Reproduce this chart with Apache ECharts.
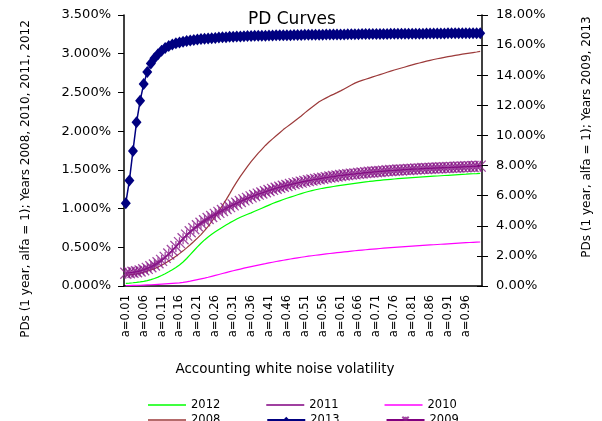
<!DOCTYPE html>
<html>
<head>
<meta charset="utf-8">
<script src="https://cdn.jsdelivr.net/npm/echarts@6/dist/echarts.min.js"></script>
<style>
html,body{margin:0;padding:0;background:#fff;}
#c{width:602px;height:421px;}
</style>
</head>
<body>
<div id="c"></div>
<script>
var categories = [
'a=0.01','a=0.02','a=0.03','a=0.04','a=0.05','a=0.06','a=0.07','a=0.08','a=0.09','a=0.10',
'a=0.11','a=0.12','a=0.13','a=0.14','a=0.15','a=0.16','a=0.17','a=0.18','a=0.19','a=0.20',
'a=0.21','a=0.22','a=0.23','a=0.24','a=0.25','a=0.26','a=0.27','a=0.28','a=0.29','a=0.30',
'a=0.31','a=0.32','a=0.33','a=0.34','a=0.35','a=0.36','a=0.37','a=0.38','a=0.39','a=0.40',
'a=0.41','a=0.42','a=0.43','a=0.44','a=0.45','a=0.46','a=0.47','a=0.48','a=0.49','a=0.50',
'a=0.51','a=0.52','a=0.53','a=0.54','a=0.55','a=0.56','a=0.57','a=0.58','a=0.59','a=0.60',
'a=0.61','a=0.62','a=0.63','a=0.64','a=0.65','a=0.66','a=0.67','a=0.68','a=0.69','a=0.70',
'a=0.71','a=0.72','a=0.73','a=0.74','a=0.75','a=0.76','a=0.77','a=0.78','a=0.79','a=0.80',
'a=0.81','a=0.82','a=0.83','a=0.84','a=0.85','a=0.86','a=0.87','a=0.88','a=0.89','a=0.90',
'a=0.91','a=0.92','a=0.93','a=0.94','a=0.95','a=0.96','a=0.97','a=0.98','a=0.99','a=1.00'
];

// Left axis (%): 2012, 2011, 2010, 2008
var s2012 = [
0.035,0.038,0.042,0.047,0.053,0.060,0.070,0.082,0.097,0.115,
0.135,0.158,0.183,0.210,0.240,0.272,0.310,0.355,0.405,0.455,
0.505,0.552,0.595,0.633,0.668,0.700,0.730,0.760,0.788,0.815,
0.840,0.865,0.888,0.908,0.927,0.945,0.965,0.985,1.005,1.025,
1.045,1.065,1.083,1.100,1.117,1.133,1.148,1.163,1.178,1.193,
1.207,1.220,1.232,1.243,1.253,1.262,1.270,1.278,1.285,1.292,
1.299,1.306,1.313,1.320,1.326,1.332,1.338,1.344,1.350,1.355,
1.360,1.365,1.370,1.374,1.378,1.382,1.386,1.390,1.394,1.397,
1.400,1.403,1.406,1.409,1.412,1.415,1.418,1.421,1.424,1.427,
1.430,1.433,1.436,1.439,1.442,1.444,1.447,1.450,1.452,1.455
];
var s2011 = [
0.165,0.171,0.177,0.185,0.195,0.210,0.228,0.249,0.272,0.300,
0.331,0.369,0.412,0.459,0.509,0.560,0.610,0.657,0.700,0.739,
0.778,0.811,0.842,0.871,0.898,0.925,0.951,0.976,1.001,1.025,
1.048,1.069,1.091,1.112,1.131,1.151,1.168,1.186,1.201,1.217,
1.233,1.248,1.262,1.275,1.287,1.299,1.310,1.322,1.332,1.341,
1.351,1.361,1.369,1.376,1.384,1.392,1.400,1.408,1.413,1.421,
1.427,1.433,1.439,1.444,1.448,1.454,1.458,1.464,1.468,1.472,
1.476,1.480,1.483,1.487,1.491,1.493,1.497,1.499,1.503,1.505,
1.509,1.511,1.512,1.516,1.518,1.520,1.522,1.524,1.526,1.528,
1.530,1.532,1.534,1.536,1.538,1.540,1.542,1.544,1.546,1.548
];
var s2010 = [
0.005,0.006,0.007,0.008,0.010,0.012,0.014,0.016,0.019,0.022,
0.025,0.028,0.031,0.034,0.037,0.040,0.046,0.054,0.062,0.072,
0.082,0.092,0.102,0.113,0.125,0.137,0.149,0.161,0.173,0.185,
0.197,0.208,0.219,0.230,0.240,0.250,0.260,0.270,0.279,0.288,
0.298,0.307,0.316,0.325,0.333,0.341,0.349,0.357,0.364,0.371,
0.378,0.385,0.391,0.397,0.403,0.409,0.415,0.420,0.425,0.430,
0.435,0.440,0.445,0.450,0.455,0.460,0.464,0.468,0.472,0.476,
0.480,0.484,0.488,0.492,0.496,0.500,0.503,0.506,0.509,0.512,
0.515,0.518,0.521,0.524,0.527,0.530,0.533,0.536,0.539,0.542,
0.545,0.548,0.551,0.554,0.557,0.560,0.562,0.564,0.566,0.568
];
var s2008 = [
0.140,0.145,0.151,0.158,0.167,0.178,0.191,0.206,0.224,0.245,
0.268,0.294,0.322,0.352,0.384,0.418,0.454,0.492,0.532,0.574,
0.618,0.664,0.714,0.770,0.833,0.900,0.970,1.040,1.112,1.190,
1.270,1.345,1.415,1.480,1.545,1.605,1.660,1.715,1.765,1.815,
1.860,1.900,1.940,1.980,2.020,2.055,2.090,2.125,2.160,2.195,
2.236,2.272,2.308,2.344,2.380,2.405,2.430,2.455,2.475,2.497,
2.520,2.545,2.570,2.595,2.620,2.640,2.655,2.670,2.685,2.700,
2.715,2.730,2.745,2.760,2.775,2.790,2.803,2.816,2.829,2.842,
2.855,2.868,2.880,2.892,2.904,2.915,2.925,2.935,2.944,2.953,
2.962,2.970,2.978,2.986,2.994,3.001,3.008,3.015,3.022,3.030
];
// Right axis (%): 2009, 2013
var s2009 = [
0.85,0.88,0.91,0.95,1.00,1.08,1.17,1.28,1.40,1.54,
1.70,1.90,2.12,2.36,2.62,2.88,3.14,3.38,3.60,3.80,
4.00,4.17,4.33,4.48,4.62,4.76,4.89,5.02,5.15,5.27,
5.39,5.50,5.61,5.72,5.82,5.92,6.01,6.10,6.18,6.26,
6.34,6.42,6.49,6.56,6.62,6.68,6.74,6.80,6.85,6.90,
6.95,7.00,7.04,7.08,7.12,7.16,7.20,7.24,7.27,7.31,
7.34,7.37,7.40,7.43,7.45,7.48,7.50,7.53,7.55,7.57,
7.59,7.61,7.63,7.65,7.67,7.68,7.70,7.71,7.73,7.74,
7.76,7.77,7.78,7.80,7.81,7.82,7.83,7.84,7.85,7.86,
7.87,7.88,7.89,7.90,7.91,7.92,7.93,7.94,7.95,7.96
];
var s2013 = [
5.50,7.00,8.97,10.87,12.30,13.42,14.22,14.78,15.12,15.40,
15.62,15.80,15.94,16.04,16.12,16.18,16.23,16.27,16.31,16.34,
16.37,16.40,16.42,16.44,16.46,16.48,16.50,16.52,16.53,16.55,
16.56,16.57,16.58,16.59,16.60,16.61,16.62,16.62,16.63,16.63,
16.64,16.64,16.65,16.65,16.66,16.66,16.66,16.67,16.67,16.67,
16.68,16.68,16.68,16.69,16.69,16.69,16.70,16.70,16.70,16.71,
16.71,16.71,16.72,16.72,16.72,16.72,16.73,16.73,16.73,16.73,
16.74,16.74,16.74,16.74,16.75,16.75,16.75,16.75,16.75,16.76,
16.76,16.76,16.76,16.76,16.77,16.77,16.77,16.77,16.77,16.77,
16.78,16.78,16.78,16.78,16.78,16.78,16.78,16.79,16.79,16.79
];

var leftTicks = {min: 0, max: 3.5, interval: 0.5};
var rightTicks = {min: 0, max: 18, interval: 2};

var FONT = 'DejaVu Sans';
var chart = echarts.init(document.getElementById('c'), null, {renderer: 'canvas'});

var starPath = 'path://M0,0L10,10M10,0L0,10M5,0L5,10';
var lineIcon = 'path://M0,0L40,0L40,1.4L0,1.4Z';

var legendCommon = {
  left: 148, itemWidth: 38, itemHeight: 8, itemGap: 46, padding: 0,
  symbolKeepAspect: true,
  textStyle: {fontFamily: FONT, fontSize: 11.5, color: '#000'}
};

chart.setOption({
  animation: false,
  backgroundColor: '#ffffff',
  textStyle: {fontFamily: FONT},
  title: {
    text: 'PD Curves',
    left: 248, top: 11, padding: 0,
    textStyle: {fontFamily: FONT, fontSize: 17, fontWeight: 'normal', color: '#000'}
  },
  grid: {left: 124, right: 120, top: 15, bottom: 135, containLabel: false},
  legend: [
    Object.assign({}, legendCommon, {
      top: 399,
      data: [{name: '2012', icon: lineIcon}, {name: '2011', icon: lineIcon}, {name: '2010', icon: lineIcon}]
    }),
    Object.assign({}, legendCommon, {
      top: 414,
      data: [{name: '2008', icon: lineIcon}, '2013', '2009']
    })
  ],
  xAxis: {
    type: 'category',
    data: categories,
    boundaryGap: true,
    axisLine: {lineStyle: {color: '#000', width: 1.5}},
    axisTick: {interval: 0, length: 4, lineStyle: {color: '#000'}},
    axisLabel: {interval: 4, rotate: 90, margin: 9, fontFamily: FONT, fontSize: 11.5, color: '#000'},
    splitLine: {show: false}
  },
  yAxis: [
    {
      type: 'value', position: 'left',
      min: leftTicks.min, max: leftTicks.max, interval: leftTicks.interval,
      axisLine: {show: true, lineStyle: {color: '#000', width: 1.5}},
      axisTick: {show: true, length: 6, lineStyle: {color: '#000'}},
      axisLabel: {margin: 13, fontFamily: FONT, fontSize: 13, color: '#000',
        formatter: function (v) { return v.toFixed(3) + '%'; }},
      splitLine: {show: false}
    },
    {
      type: 'value', position: 'right',
      min: rightTicks.min, max: rightTicks.max, interval: rightTicks.interval,
      axisLine: {show: true, lineStyle: {color: '#000', width: 1.5}},
      axisTick: {show: true, length: 6, lineStyle: {color: '#000'}},
      axisLabel: {margin: 14, fontFamily: FONT, fontSize: 13, color: '#000',
        formatter: function (v) { return v.toFixed(2) + '%'; }},
      splitLine: {show: false}
    },
    {
      type: 'value', position: 'right',
      min: rightTicks.min, max: rightTicks.max, interval: rightTicks.interval,
      axisLine: {show: false},
      axisTick: {show: true, inside: true, length: 5, lineStyle: {color: '#000'}},
      axisLabel: {show: false},
      splitLine: {show: false}
    }
  ],
  series: [
    {name: '2012', type: 'line', yAxisIndex: 0, data: s2012, symbol: 'none',
      lineStyle: {color: '#00ff00', width: 1.2}, itemStyle: {color: '#00ff00'}},
    {name: '2011', type: 'line', yAxisIndex: 0, data: s2011, symbol: 'none',
      lineStyle: {color: '#800080', width: 1.2}, itemStyle: {color: '#800080'}},
    {name: '2010', type: 'line', yAxisIndex: 0, data: s2010, symbol: 'none',
      lineStyle: {color: '#ff00ff', width: 1.2}, itemStyle: {color: '#ff00ff'}},
    {name: '2008', type: 'line', yAxisIndex: 0, data: s2008, symbol: 'none',
      lineStyle: {color: '#9c3a3a', width: 1.2}, itemStyle: {color: '#9c3a3a'}},
    {name: '2009', type: 'line', yAxisIndex: 1, data: s2009,
      symbol: starPath, symbolSize: 11, showAllSymbol: true,
      lineStyle: {color: '#800080', width: 1.2},
      itemStyle: {color: '#800080', borderColor: '#8a1a8a', borderWidth: 1.3, opacity: 0.8}},
    {name: '2013', type: 'line', yAxisIndex: 1, data: s2013,
      symbol: 'diamond', symbolSize: [10, 12], showAllSymbol: true,
      lineStyle: {color: '#000080', width: 1.5},
      itemStyle: {color: '#000080', borderWidth: 0}}
  ],
  graphic: [
    {type: 'text', x: 26, y: 179, rotation: Math.PI / 2,
      style: {text: 'PDs (1 year, alfa = 1); Years 2008, 2010, 2011, 2012', x: 0, y: 0,
        align: 'center', verticalAlign: 'middle', font: '12px "DejaVu Sans"', fill: '#000'}},
    {type: 'text', x: 587, y: 137, rotation: Math.PI / 2,
      style: {text: 'PDs (1 year, alfa = 1); Years 2009, 2013', x: 0, y: 0,
        align: 'center', verticalAlign: 'middle', font: '12px "DejaVu Sans"', fill: '#000'}},
    {type: 'text', x: 285, y: 369,
      style: {text: 'Accounting white noise volatility', x: 0, y: 0,
        align: 'center', verticalAlign: 'middle', font: '13.5px "DejaVu Sans"', fill: '#000'}}
  ]
});
</script>
</body>
</html>
